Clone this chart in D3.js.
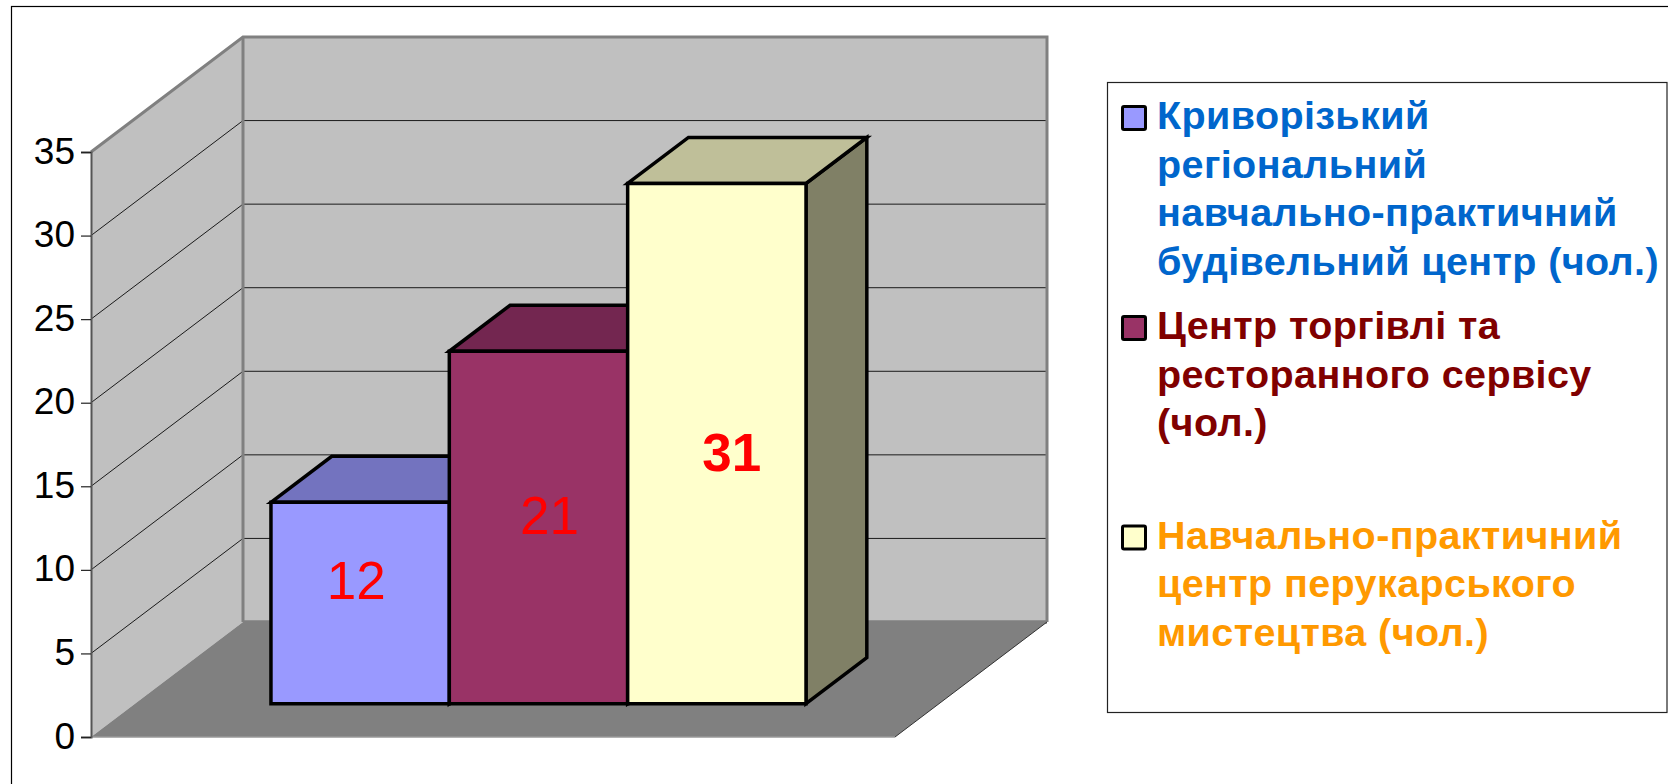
<!DOCTYPE html>
<html>
<head>
<meta charset="utf-8">
<script src="https://cdn.jsdelivr.net/npm/d3@7"></script>
<style>
    body { margin: 0; background: #fff; }
    svg { display: block; font-family: "Liberation Sans", Arial, sans-serif; }
</style>
</head>
<body>
<div class="container"></div>
<script>
const categories = ["Криворізький регіональний навчально-практичний будівельний центр (чол.)",
                    "Центр торгівлі та ресторанного сервісу (чол.)",
                    "Навчально-практичний центр перукарського мистецтва (чол.)"];
const values = [12, 21, 31];
const yTicks = [0, 5, 10, 15, 20, 25, 30, 35];

const legendLines = [
    ["Криворізький", "регіональний", "навчально-практичний", "будівельний центр (чол.)"],
    ["Центр торгівлі та", "ресторанного сервісу", "(чол.)"],
    ["Навчально-практичний", "центр перукарського", "мистецтва (чол.)"]
];

const width = 1668;
const height = 784;

const frontFill = ["#9999FF", "#993366", "#FFFFCC"];
const topFill = ["#7373BF", "#732650", "#BFBF99"];
const sideFill = ["#666699", "#662244", "#808066"];
const legendColor = ["#0066CC", "#800000", "#FF9900"];

const svg = d3.select(".container").append("svg")
    .attr("width", width)
    .attr("height", height);

// outer frame
svg.append("rect")
    .attr("x", 11.5).attr("y", 6.5)
    .attr("width", width + 20).attr("height", height + 20)
    .attr("fill", "none").attr("stroke", "#000").attr("stroke-width", 1.2);

const xScale = d3.scaleLinear().domain([0, 1]).range([91, 895]);
const yScale = d3.scaleLinear().domain([0, 35]).range([737, 152]);
const depthX = d3.scaleLinear().domain([0, 1]).range([0, 152]);
const depthY = d3.scaleLinear().domain([0, 1]).range([0, 115]);

// the 3d projection: x along floor, v on value axis, z into the chart
const px = (x, z) => xScale(x) + depthX(z);
const py = (v, z) => yScale(v) - depthY(z);
const pt = (x, v, z) => [px(x, z), py(v, z)];
const face = pts => d3.line()(pts) + "Z";

// walls and floor
svg.append("path")
    .attr("d", face([pt(0, 0, 1), pt(1, 0, 1), pt(1, 35, 1), pt(0, 35, 1)]))
    .attr("fill", "#C0C0C0");
svg.append("path")
    .attr("d", face([pt(0, 0, 0), pt(0, 0, 1), pt(0, 35, 1), pt(0, 35, 0)]))
    .attr("fill", "#C0C0C0");
svg.append("path")
    .attr("d", face([pt(0, 0, 0), pt(1, 0, 0), pt(1, 0, 1), pt(0, 0, 1)]))
    .attr("fill", "#808080");
// floor runs a bit up the back wall in the original
svg.append("path")
    .attr("d", d3.line()([pt(0, 0, 1), pt(1, 0, 1)]))
    .attr("fill", "none").attr("stroke", "#808080").attr("stroke-width", 3.5);

// gridlines on both walls
const grid = yTicks.filter(d => d > 0 && d < 35);
svg.selectAll(".grid")
    .data(grid)
    .enter()
    .append("path")
    .attr("class", "grid")
    .attr("d", d => d3.line()([pt(0, d, 0), pt(0, d, 1), pt(1, d, 1)]))
    .attr("fill", "none")
    .attr("stroke", "#1a1a1a")
    .attr("stroke-width", 1);

// wall edges
svg.append("path")
    .attr("d", d3.line()([pt(0, 35, 0), pt(0, 35, 1), pt(1, 35, 1), pt(1, 0, 1)]))
    .attr("fill", "none").attr("stroke", "#808080").attr("stroke-width", 3);
svg.append("path")
    .attr("d", d3.line()([pt(0, 35, 1), pt(0, 0, 1)]))
    .attr("fill", "none").attr("stroke", "#808080").attr("stroke-width", 3);
svg.append("path")
    .attr("d", d3.line()([pt(1, 0, 0), pt(1, 0, 1)]))
    .attr("fill", "none").attr("stroke", "#333").attr("stroke-width", 1);
svg.append("path")
    .attr("d", d3.line()([pt(0, 0, 0), pt(1, 0, 0)]))
    .attr("fill", "none").attr("stroke", "#999").attr("stroke-width", 1.5);

// bars
const barScale = d3.scaleBand().domain(d3.range(values.length)).range([0.169, 0.8345]);
const zFront = 0.29;
const zBack = 0.69;
// bars sit a hair taller than the axis spacing in the original
const barHeight = d3.scaleLinear().domain([0, 35]).range([0, 35.14]);

const bars = svg.selectAll(".bar")
    .data(values)
    .enter()
    .append("g")
    .attr("class", "bar")
    .attr("stroke", "#000")
    .attr("stroke-width", 3.5)
    .attr("stroke-linejoin", "miter");

bars.append("path")
    .attr("fill", (d, i) => sideFill[i])
    .attr("d", (d, i) => {
        const x1 = barScale(i) + barScale.bandwidth();
        const h = barHeight(d);
        return face([pt(x1, 0, zFront), pt(x1, 0, zBack), pt(x1, h, zBack), pt(x1, h, zFront)]);
    });
bars.append("path")
    .attr("fill", (d, i) => topFill[i])
    .attr("d", (d, i) => {
        const x0 = barScale(i), x1 = x0 + barScale.bandwidth();
        const h = barHeight(d);
        return face([pt(x0, h, zFront), pt(x0, h, zBack), pt(x1, h, zBack), pt(x1, h, zFront)]);
    });
bars.append("path")
    .attr("fill", (d, i) => frontFill[i])
    .attr("d", (d, i) => {
        const x0 = barScale(i), x1 = x0 + barScale.bandwidth();
        const h = barHeight(d);
        return face([pt(x0, 0, zFront), pt(x1, 0, zFront), pt(x1, h, zFront), pt(x0, h, zFront)]);
    });

// value labels, hand placed in the original so nudged from the bar centre
const labelNudge = [[-4, 6.26], [11, 10.15], [15, 13.9]];
svg.selectAll(".val")
    .data(values)
    .enter()
    .append("text")
    .attr("class", "val")
    .attr("x", (d, i) => px(barScale(i) + barScale.bandwidth() / 2, zFront) + labelNudge[i][0])
    .attr("y", (d, i) => py(labelNudge[i][1], zFront))
    .attr("text-anchor", "middle")
    .attr("fill", "#FF0000")
    .attr("font-size", 53)
    .attr("font-weight", (d, i) => i === 2 ? "bold" : "normal")
    .text(d => d);

// y axis
const yAxis = d3.axisLeft(yScale).tickValues(yTicks).tickSize(10).tickPadding(6);
const yG = svg.append("g")
    .attr("id", "y-axis")
    .attr("transform", `translate(${xScale(0)},0)`)
    .call(yAxis);
yG.select(".domain").attr("stroke", "#555").attr("stroke-width", 2);
yG.selectAll(".tick line").attr("stroke", "#222").attr("stroke-width", 1.2);
yG.selectAll(".tick text")
    .attr("font-family", "'Liberation Sans', Arial, sans-serif")
    .attr("font-size", 37)
    .attr("dy", "0.3em")
    .attr("fill", "#000");

// legend
svg.append("rect")
    .attr("x", 1107.5).attr("y", 82.5)
    .attr("width", 559.5).attr("height", 630)
    .attr("fill", "#fff").attr("stroke", "#222").attr("stroke-width", 1.2);

const legendTop = [129, 339, 548.5];
const legend = svg.selectAll(".legend-item")
    .data(categories)
    .enter()
    .append("g")
    .attr("class", "legend-item")
    .attr("transform", (d, i) => `translate(1157,${legendTop[i]})`);

legend.append("rect")
    .attr("x", -34.5).attr("y", -22.5)
    .attr("width", 23).attr("height", 23)
    .attr("rx", 1.5)
    .attr("fill", (d, i) => frontFill[i])
    .attr("stroke", "#000").attr("stroke-width", 3);

legend.each(function(d, i) {
    d3.select(this).selectAll("text")
        .data(legendLines[i])
        .enter()
        .append("text")
        .attr("x", 0)
        .attr("y", (t, j) => j * 48.6)
        .attr("font-size", 39.5)
        .attr("letter-spacing", 0.4)
        .attr("font-weight", "bold")
        .attr("fill", legendColor[i])
        .text(t => t);
});
</script>
</body>
</html>
